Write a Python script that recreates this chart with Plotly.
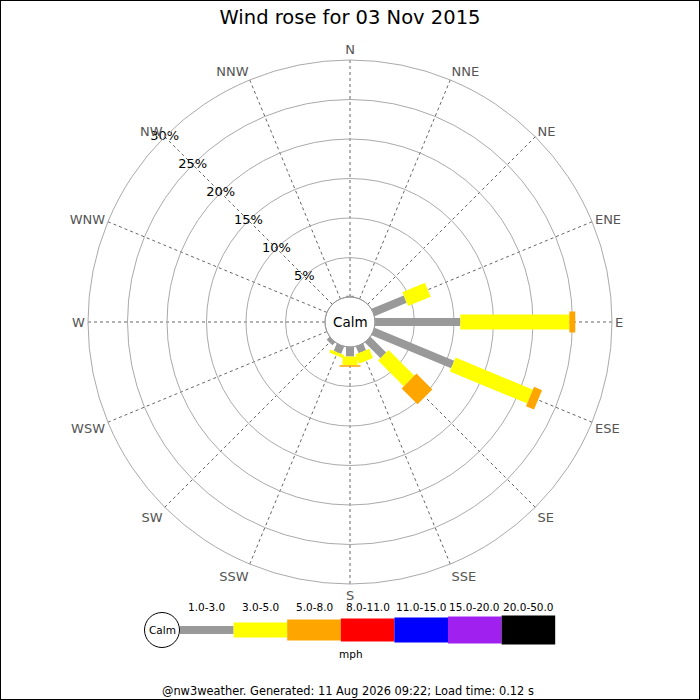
import math
import plotly.graph_objects as go

TITLE = 'Wind rose for 03 Nov 2015'
FOOTER = '@nw3weather. Generated: 11 Aug 2026 09:22; Load time: 0.12 s'

DIRECTIONS = ['N', 'NNE', 'NE', 'ENE', 'E', 'ESE', 'SE', 'SSE',
              'S', 'SSW', 'SW', 'WSW', 'W', 'WNW', 'NW', 'NNW']
SPEED_BINS = ['1.0-3.0', '3.0-5.0', '5.0-8.0', '8.0-11.0',
              '11.0-15.0', '15.0-20.0', '20.0-50.0']
BIN_COLORS = ['#999999', '#ffff00', '#ffa500', '#ff0000',
              '#0000ff', '#a020f0', '#000000']
BIN_WIDTHS = [8, 15, 21, 23, 25, 27, 29]  # bar thickness in px

# percentage of the day per direction, one list per speed bin (mph)
PCT_1_3 = [0.15, 0, 0, 4.4, 10.8, 10.9, 2.8, 0.9, 1.2, 1.0, 0.5, 0, 0, 0, 0, 0]
PCT_3_5 = [0, 0, 0, 3.1, 13.8, 10.6, 4.6, 1.25, 1.1, 0.4, 0, 0, 0, 0, 0, 0]
PCT_5_8 = [0, 0, 0, 0, 0.75, 1.1, 2.85, 0, 0.2, 0, 0, 0, 0, 0, 0, 0]
SERIES = [PCT_1_3, PCT_3_5, PCT_5_8]

RADIAL_TICKS = [5, 10, 15, 20, 25, 30]

FONT = 'DejaVu Sans'
W = H = 700
CX, CY = 350, 322      # centre of the rose, px
R_PX = 262             # outer ring radius, px
CALM_PX = 25           # calm circle radius, px
RMAX = RADIAL_TICKS[-1]


def px(x):
    return x / W


def py_(y):
    return 1 - y / H


def to_px(r):
    return CALM_PX + r * (R_PX - CALM_PX) / RMAX


def to_r(p):
    return (p - CALM_PX) * RMAX / (R_PX - CALM_PX)


def bar_outline(theta, r0, r1, width):
    # rectangle of constant pixel width along the spoke
    hw = width / 2
    rs, ts = [], []
    for p, side in ((to_px(r0), -1), (to_px(r1), -1), (to_px(r1), 1), (to_px(r0), 1)):
        rs.append(to_r(math.hypot(p, hw)))
        ts.append(theta + side * math.degrees(math.atan2(hw, p)))
    rs.append(rs[0])
    ts.append(ts[0])
    return rs, ts


def label(text, x, y, size):
    return dict(text=text, x=px(x), y=py_(y), xref='paper', yref='paper',
                xanchor='center', yanchor='middle', showarrow=False,
                font={'family': FONT, 'size': size, 'color': '#000000'})


angles = [i * 360 / len(DIRECTIONS) for i in range(len(DIRECTIONS))]

fig = go.Figure()

base = [0.0] * len(DIRECTIONS)
for k, values in enumerate(SERIES):
    r_all, t_all = [], []
    for i, v in enumerate(values):
        if v <= 0:
            continue
        rs, ts = bar_outline(angles[i], base[i], base[i] + v, BIN_WIDTHS[k])
        r_all += rs + [None]
        t_all += ts + [None]
        base[i] += v
    fig.add_trace(go.Scatterpolar(
        r=r_all, theta=t_all, mode='lines', fill='toself',
        fillcolor=BIN_COLORS[k], line={'width': 0, 'color': BIN_COLORS[k]},
        hoverinfo='skip', showlegend=False
    ))

fig.add_trace(go.Scatterpolar(
    r=RADIAL_TICKS, theta=[315] * len(RADIAL_TICKS), mode='text',
    text=[f'{v}%' for v in RADIAL_TICKS],
    textfont={'family': FONT, 'size': 13, 'color': '#000000'},
    cliponaxis=False, hoverinfo='skip', showlegend=False
))

shapes = [
    # calm circle
    dict(type='circle', xref='paper', yref='paper',
         x0=px(CX - CALM_PX), x1=px(CX + CALM_PX),
         y0=py_(CY + CALM_PX), y1=py_(CY - CALM_PX),
         line={'color': '#999999', 'width': 1}),
    # border
    dict(type='rect', xref='paper', yref='paper', x0=0, x1=1, y0=0, y1=1,
         line={'color': '#000000', 'width': 2}),
]
annotations = [label('Calm', CX, CY, 13.5)]

# speed key along the bottom
LEG_X0, SEG_W, LEG_Y = 180, 53.6, 630
for k, name in enumerate(SPEED_BINS):
    x0 = LEG_X0 + k * SEG_W
    hw = BIN_WIDTHS[k] / 2
    shapes.append(dict(type='rect', xref='paper', yref='paper',
                       x0=px(x0), x1=px(x0 + SEG_W),
                       y0=py_(LEG_Y + hw), y1=py_(LEG_Y - hw),
                       fillcolor=BIN_COLORS[k], line={'width': 0}))
    annotations.append(label(name, x0 + SEG_W / 2, 607, 10.5))
shapes.append(dict(type='circle', xref='paper', yref='paper',
                   x0=px(162 - 17.5), x1=px(162 + 17.5),
                   y0=py_(LEG_Y + 17.5), y1=py_(LEG_Y - 17.5),
                   fillcolor='#ffffff', line={'color': '#000000', 'width': 1}))
annotations.append(label('Calm', 162, LEG_Y, 10.5))
annotations.append(label('mph', 351, 654, 10.5))
annotations.append(label(FOOTER, 348, 691, 11.4))

fig.update_layout(
    width=W, height=H,
    margin={'l': 0, 'r': 0, 't': 0, 'b': 0},
    paper_bgcolor='#ffffff',
    font={'family': FONT},
    showlegend=False,
    title={'text': TITLE, 'x': 0.5, 'y': py_(17), 'xanchor': 'center', 'yanchor': 'middle',
           'font': {'family': FONT, 'size': 19.5, 'color': '#000000'}},
    polar={
        'domain': {'x': [px(CX - R_PX), px(CX + R_PX)], 'y': [py_(CY + R_PX), py_(CY - R_PX)]},
        'bgcolor': '#ffffff',
        'hole': CALM_PX / R_PX,
        'radialaxis': {
            'range': [0, RMAX], 'tickvals': RADIAL_TICKS, 'showticklabels': False,
            'ticks': '', 'showline': False, 'gridcolor': '#aaaaaa', 'gridwidth': 1,
        },
        'angularaxis': {
            'type': 'linear', 'rotation': 90, 'direction': 'clockwise',
            'tickvals': angles, 'ticktext': DIRECTIONS, 'ticks': '',
            'showline': True, 'linecolor': '#aaaaaa', 'linewidth': 1,
            'gridcolor': '#666666', 'griddash': 'dot', 'gridwidth': 1,
            'tickfont': {'family': FONT, 'size': 13, 'color': '#555555'},
        },
    },
    shapes=shapes,
    annotations=annotations,
)

fig.write_html('out.html', config={'displayModeBar': False},
               post_script="document.body.style.margin='0';")
